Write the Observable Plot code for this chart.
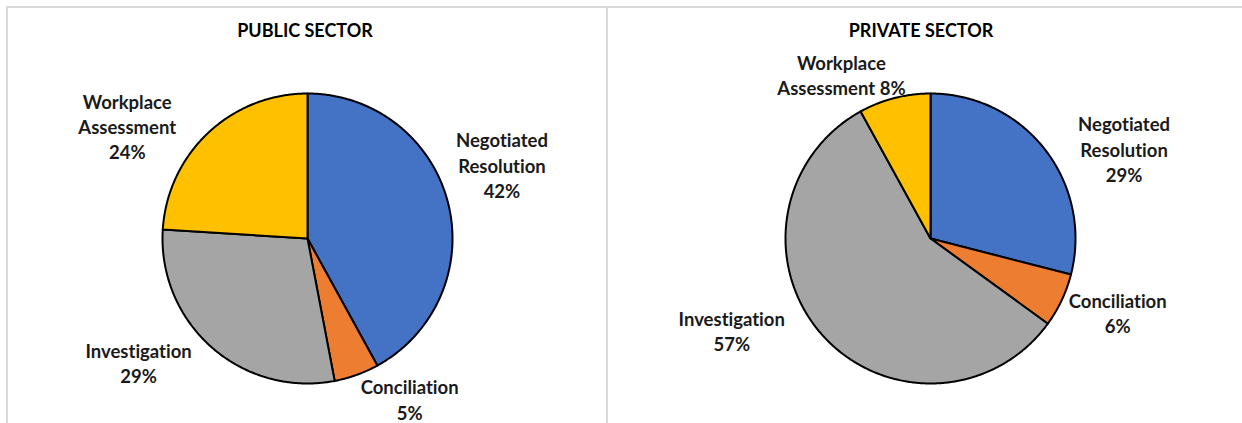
<!DOCTYPE html>
<html>
<head>
<meta charset="utf-8">
<script src="https://cdn.jsdelivr.net/npm/d3@7"></script>
<script src="https://cdn.jsdelivr.net/npm/@observablehq/plot@0.6"></script>
<style>
  html, body { margin: 0; padding: 0; background: #fff; }
  #wrap { position: relative; width: 1242px; height: 423px; overflow: hidden; background: #fff; }
  .rule { position: absolute; background: #d9d9d9; }
  .panel { position: absolute; top: 0; }
  svg text { font-variant-ligatures: none; font-feature-settings: "liga" 0; }
</style>
</head>
<body>
<div id="wrap">
  <div class="panel" id="pub" style="left:0px;"></div>
  <div class="panel" id="priv" style="left:607px;"></div>
  <div class="rule" style="left:6px; right:0; top:6px; height:2px;"></div>
  <div class="rule" style="left:6px; top:6px; bottom:0; width:2px;"></div>
  <div class="rule" style="left:606px; top:6px; bottom:0; width:2px;"></div>
</div>
<script>
// ---- data ----
const categories = ["Negotiated Resolution", "Conciliation", "Investigation", "Workplace Assessment"];
const colors = ["#4472C4", "#ED7D31", "#A5A5A5", "#FFC000"];
const publicValues = [42, 5, 29, 24];
const privateValues = [29, 6, 57, 8];
const labelNames = ["Negotiated\nResolution", "Conciliation", "Investigation", "Workplace\nAssessment"];
const publicSeparators = ["\n", "\n", "\n", "\n"];
const privateSeparators = ["\n", "\n", "\n", " "];
const titles = ["PUBLIC SECTOR", "PRIVATE SECTOR"];

// ---- layout (label nudges in px from the slice's outer-edge midpoint) ----
const publicOffsets = [[54, -38], [53, 24], [-73, 15], [-81, -7]];
const privateOffsets = [[79, -1], [56, 12], [-90, -4], [-53, -24]];

const FONT = "Lato, 'Open Sans', sans-serif";

function makePie(values, separators, offsets, title, width, cx, titleDx) {
  const R = 145, cy = 238;
  const arcs = d3.pie().sort(null).value(d => d)(values);
  const points = arcs.flatMap((a, i) => {
    const k = categories[i];
    const pts = [{k, x: 0, y: 0}];
    const n = Math.max(2, Math.ceil((a.endAngle - a.startAngle) / (Math.PI / 360)));
    for (let j = 0; j <= n; j++) {
      const t = a.startAngle + (a.endAngle - a.startAngle) * j / n;
      pts.push({k, x: Math.sin(t), y: Math.cos(t)});
    }
    return pts;
  });
  const labels = arcs.map((a, i) => {
    const m = (a.startAngle + a.endAngle) / 2;
    return {k: categories[i], x: Math.sin(m), y: Math.cos(m), text: labelNames[i] + separators[i] + values[i] + "%"};
  });
  return Plot.plot({
    width, height: 423,
    margin: 0,
    style: {fontFamily: FONT, background: "transparent", overflow: "visible"},
    x: {domain: [-1, 1], range: [cx - R, cx + R], axis: null},
    y: {domain: [-1, 1], range: [cy + R, cy - R], axis: null},
    color: {domain: categories, range: colors},
    marks: [
      Plot.line(points, {x: "x", y: "y", z: "k", fill: "k", stroke: "#000", strokeWidth: 2, curve: "linear-closed", strokeLinejoin: "round"}),
      ...labels.map((l, i) => Plot.text([l], {
        x: "x", y: "y", text: "text",
        dx: offsets[i][0], dy: offsets[i][1],
        fontWeight: "bold", fontSize: 18.5, lineHeight: 1.37, fill: "#1a1a1a"
      })),
      Plot.text([title], {text: d => d, frameAnchor: "top", lineAnchor: "middle", dy: 31, dx: titleDx, fontWeight: "bold", fontSize: 18, fill: "#000"})
    ]
  });
}

document.getElementById("pub").appendChild(makePie(publicValues, publicSeparators, publicOffsets, titles[0], 607, 307, 1));
document.getElementById("priv").appendChild(makePie(privateValues, privateSeparators, privateOffsets, titles[1], 635, 323, -4));
</script>
</body>
</html>
